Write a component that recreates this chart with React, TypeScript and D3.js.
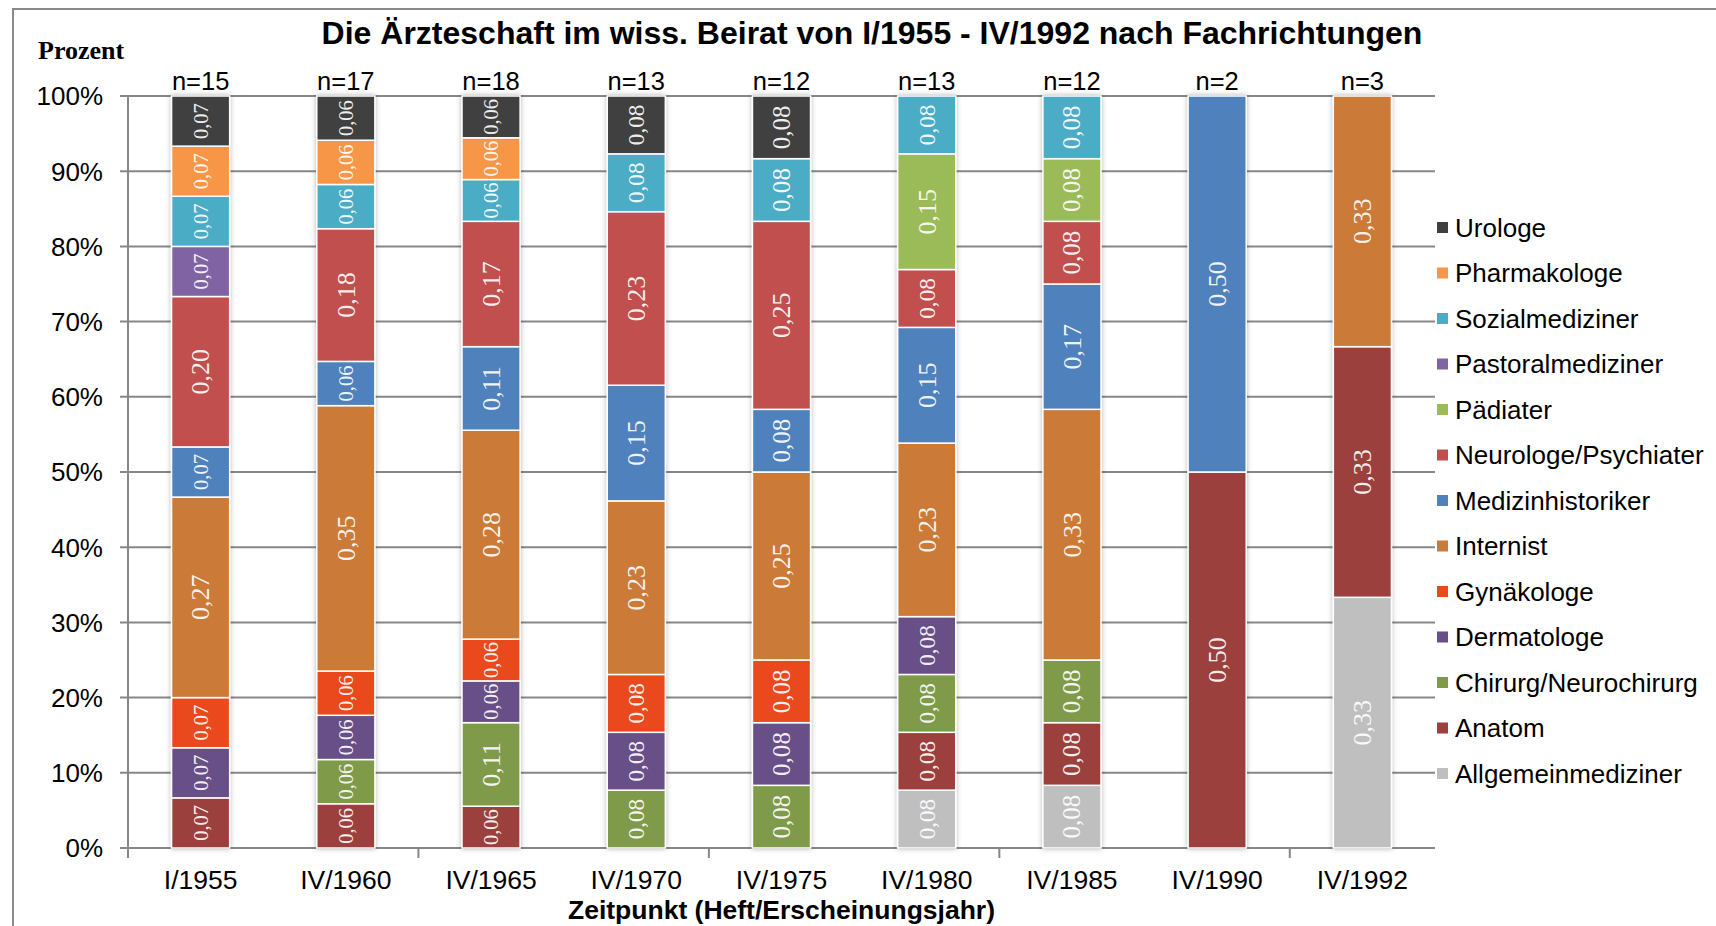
import React from 'react';
import * as d3 from 'd3';

// Zeitpunkte (Heft/Erscheinungsjahr)
const periods = ['I/1955', 'IV/1960', 'IV/1965', 'IV/1970', 'IV/1975', 'IV/1980', 'IV/1985', 'IV/1990', 'IV/1992'];
const totals = [15, 17, 18, 13, 12, 13, 12, 2, 3];

// stack order, bottom -> top
const specialties = [
  'Allgemeinmediziner',
  'Anatom',
  'Chirurg/Neurochirurg',
  'Dermatologe',
  'Gynäkologe',
  'Internist',
  'Medizinhistoriker',
  'Neurologe/Psychiater',
  'Pädiater',
  'Pastoralmediziner',
  'Sozialmediziner',
  'Pharmakologe',
  'Urologe',
];

// number of members per specialty, one value per period
const allgemeinmediziner = [0, 0, 0, 0, 0, 1, 1, 0, 1];
const anatom = [1, 1, 1, 0, 0, 1, 1, 1, 1];
const chirurg = [0, 1, 2, 1, 1, 1, 1, 0, 0];
const dermatologe = [1, 1, 1, 1, 1, 1, 0, 0, 0];
const gynaekologe = [1, 1, 1, 1, 1, 0, 0, 0, 0];
const internist = [4, 6, 5, 3, 3, 3, 4, 0, 1];
const medizinhistoriker = [1, 1, 2, 2, 1, 2, 2, 1, 0];
const neurologe = [3, 3, 3, 3, 3, 1, 1, 0, 0];
const paediater = [0, 0, 0, 0, 0, 2, 1, 0, 0];
const pastoralmediziner = [1, 0, 0, 0, 0, 0, 0, 0, 0];
const sozialmediziner = [1, 1, 1, 1, 1, 1, 1, 0, 0];
const pharmakologe = [1, 1, 1, 0, 0, 0, 0, 0, 0];
const urologe = [1, 1, 1, 1, 1, 0, 0, 0, 0];

const counts = [
  allgemeinmediziner, anatom, chirurg, dermatologe, gynaekologe, internist,
  medizinhistoriker, neurologe, paediater, pastoralmediziner, sozialmediziner,
  pharmakologe, urologe,
];

const colors = [
  '#BFBFBF', '#9C3F3E', '#7F9B48', '#674F87', '#E9491D', '#CB7A38',
  '#4F81BD', '#C0504D', '#9BBB59', '#8064A2', '#4BACC6', '#F79646', '#404040',
];

const yTicks = [0, 0.1, 0.2, 0.3, 0.4, 0.5, 0.6, 0.7, 0.8, 0.9, 1];

const W = 1716;
const H = 926;
const m = { left: 128, right: 1435, top: 96, bottom: 848 };

const sans = '"Liberation Sans", Arial, sans-serif';
const serif = '"Liberation Serif", "Times New Roman", serif';

export default function App() {
  const rows = periods.map((p, i) => {
    const r: any = { period: p };
    specialties.forEach((s, j) => (r[s] = counts[j][i]));
    return r;
  });

  const series = d3.stack().keys(specialties).offset(d3.stackOffsetExpand)(rows);

  const x = d3.scaleBand().domain(periods).range([m.left, m.right]).paddingInner(0.6).paddingOuter(0.3);
  const y = d3.scaleLinear().domain([0, 1]).range([m.bottom, m.top]);
  const color = d3.scaleOrdinal<string, string>().domain(specialties).range(colors);
  const fmt = (v: number) => d3.format('.2f')(v).replace('.', ',');
  const pct = d3.format('.0%');

  const step = x.step();
  const tickXs = d3.range(0, periods.length + 1, 2).map((k) => m.left + k * step);
  const legend = specialties.slice().reverse();

  return (
    <svg width={W} height={H} style={{ position: 'absolute', left: 0, top: 0, background: '#fff' }}>
      <defs>
        <filter id="shadow" x="-30%" y="-5%" width="160%" height="110%">
          <feDropShadow dx="0" dy="0" stdDeviation="2.5" floodColor="#000" floodOpacity="0.3" />
        </filter>
      </defs>

      {/* chart frame */}
      <rect x={13} y={9} width={W + 20} height={H + 20} fill="none" stroke="#8a8a8a" strokeWidth={2} />

      <text x={872} y={44} textAnchor="middle" fontFamily={sans} fontWeight="bold" fontSize={32}>
        Die Ärzteschaft im wiss. Beirat von I/1955 - IV/1992 nach Fachrichtungen
      </text>
      <text x={38} y={59} fontFamily={serif} fontWeight="bold" fontSize={26}>
        Prozent
      </text>

      {/* grid */}
      {yTicks.map((t) => (
        <g key={t}>
          <line x1={m.left - 8} x2={m.right} y1={y(t)} y2={y(t)} stroke="#878787" strokeWidth={2} />
          <text x={103} y={y(t)} dy="0.36em" textAnchor="end" fontFamily={sans} fontSize={26}>
            {pct(t)}
          </text>
        </g>
      ))}
      <line x1={m.left} x2={m.left} y1={m.top} y2={m.bottom} stroke="#878787" strokeWidth={2} />
      {tickXs.map((tx) => (
        <line key={tx} x1={tx} x2={tx} y1={m.bottom} y2={m.bottom + 10} stroke="#878787" strokeWidth={2} />
      ))}

      {/* bars */}
      {periods.map((p, i) => (
        <g key={p} filter="url(#shadow)">
          {series.map((s) => {
            const d = s[i];
            if (d[1] - d[0] <= 0) return null;
            return (
              <rect
                key={s.key}
                x={x(p)}
                y={y(d[1])}
                width={x.bandwidth()}
                height={y(d[0]) - y(d[1])}
                fill={color(s.key)}
                stroke="#fff"
                strokeWidth={1.5}
              />
            );
          })}
        </g>
      ))}
      {periods.map((p, i) =>
        series.map((s) => {
          const d = s[i];
          const v = d[1] - d[0];
          if (v <= 0) return null;
          const cx = (x(p) as number) + x.bandwidth() / 2;
          const cy = (y(d[0]) + y(d[1])) / 2;
          const h = y(d[0]) - y(d[1]);
          const fs = Math.min(26, Math.max(20.5, h * 0.4));
          return (
            <text
              key={p + s.key}
              transform={`translate(${cx},${cy}) rotate(-90)`}
              textAnchor="middle"
              dy="0.34em"
              style={{ fontFamily: serif }}
              fontSize={fs}
              fill="#fff"
              fillOpacity={0.92}
            >
              {fmt(v)}
            </text>
          );
        })
      )}

      {/* n labels */}
      {periods.map((p, i) => (
        <text key={p} x={(x(p) as number) + x.bandwidth() / 2} y={90} textAnchor="middle" fontFamily={sans} fontSize={25.5}>
          {`n=${totals[i]}`}
        </text>
      ))}

      {/* x labels */}
      {periods.map((p) => (
        <text key={p} x={(x(p) as number) + x.bandwidth() / 2} y={889} textAnchor="middle" fontFamily={sans} fontSize={26.5}>
          {p}
        </text>
      ))}
      <text x={(m.left + m.right) / 2} y={919} textAnchor="middle" fontFamily={sans} fontWeight="bold" fontSize={26.5}>
        Zeitpunkt (Heft/Erscheinungsjahr)
      </text>

      {/* legend */}
      {legend.map((s, k) => {
        const cy = 227.5 + k * 45.5;
        return (
          <g key={s}>
            <rect x={1437} y={cy - 5.5} width={11} height={11} fill={color(s)} />
            <text x={1455} y={cy} dy="0.36em" fontFamily={sans} fontSize={26}>
              {s}
            </text>
          </g>
        );
      })}
    </svg>
  );
}
